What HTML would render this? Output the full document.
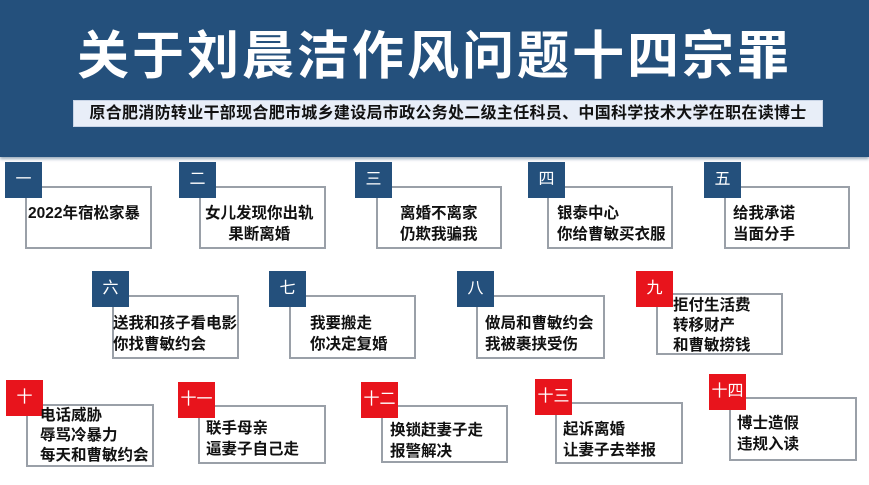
<!DOCTYPE html>
<html><head><meta charset="utf-8"><style>
*{margin:0;padding:0;box-sizing:border-box}
body{width:869px;height:485px;background:#fff;position:relative;overflow:hidden;font-family:"Liberation Sans","Noto Sans CJK SC",sans-serif}
.hdr{position:absolute;left:0;top:0;width:869px;height:157px;background:#24507c;box-shadow:0 2px 3px #9ab}
.title{position:absolute;left:0;top:26px;width:869px;text-align:center;color:#fff;font-size:52px;font-weight:bold;line-height:62px;letter-spacing:3px}
.sub{position:absolute;left:73px;top:100px;width:750px;height:27px;background:#e8eef8;border:1px solid #c8d4e6;color:#111;font-size:16px;font-weight:bold;line-height:26px;text-align:center;letter-spacing:0.3px;white-space:nowrap;overflow:hidden}
.box{position:absolute;border:2px solid #9aa0a8;background:#fff}
.lab{position:absolute;width:37px;height:36px;background:#24507c;color:#fff;font-size:16px;text-align:center;line-height:36px}
.red{background:#e8141c}
.t{position:absolute;font-size:15.5px;font-weight:bold;line-height:21px;color:#111;white-space:nowrap}
</style></head><body>
<div class="hdr"></div>
<div class="title">关于刘晨洁作风问题十四宗罪</div>
<div class="sub">原合肥消防转业干部现合肥市城乡建设局市政公务处二级主任科员、中国科学技术大学在职在读博士</div>

<div class="box" style="left:25px;top:186px;width:127px;height:63px"></div>
<div class="lab" style="left:5px;top:162px">一</div>
<div class="t" style="left:28px;top:203px">2022年宿松家暴</div>

<div class="box" style="left:199px;top:186px;width:127px;height:63px"></div>
<div class="lab" style="left:179px;top:162px">二</div>
<div class="t" style="left:205px;top:203px;text-align:center">女儿发现你出轨<br>果断离婚</div>

<div class="box" style="left:376px;top:186px;width:126px;height:63px"></div>
<div class="lab" style="left:355px;top:162px">三</div>
<div class="t" style="left:400px;top:203px">离婚不离家<br>仍欺我骗我</div>

<div class="box" style="left:547px;top:186px;width:126px;height:63px"></div>
<div class="lab" style="left:528px;top:162px">四</div>
<div class="t" style="left:557px;top:203px">银泰中心<br>你给曹敏买衣服</div>

<div class="box" style="left:724px;top:186px;width:126px;height:63px"></div>
<div class="lab" style="left:704px;top:162px">五</div>
<div class="t" style="left:733px;top:203px">给我承诺<br>当面分手</div>

<div class="box" style="left:112px;top:295px;width:127px;height:64px"></div>
<div class="lab" style="left:92px;top:271px">六</div>
<div class="t" style="left:113px;top:313px">送我和孩子看电影<br>你找曹敏约会</div>

<div class="box" style="left:289px;top:295px;width:127px;height:64px"></div>
<div class="lab" style="left:269px;top:271px">七</div>
<div class="t" style="left:310px;top:313px">我要搬走<br>你决定复婚</div>

<div class="box" style="left:476px;top:295px;width:129px;height:64px"></div>
<div class="lab" style="left:457px;top:271px">八</div>
<div class="t" style="left:485px;top:313px">做局和曹敏约会<br>我被裹挟受伤</div>

<div class="box" style="left:656px;top:293px;width:127px;height:62px"></div>
<div class="lab red" style="left:636px;top:271px">九</div>
<div class="t" style="left:673px;top:296px;line-height:20px">拒付生活费<br>转移财产<br>和曹敏捞钱</div>

<div class="box" style="left:26px;top:404px;width:128px;height:63px"></div>
<div class="lab red" style="left:6px;top:380px">十</div>
<div class="t" style="left:40px;top:406px;line-height:20px">电话威胁<br>辱骂冷暴力<br>每天和曹敏约会</div>

<div class="box" style="left:198px;top:405px;width:128px;height:59px"></div>
<div class="lab red" style="left:178px;top:382px">十一</div>
<div class="t" style="left:206px;top:418px">联手母亲<br>逼妻子自己走</div>

<div class="box" style="left:381px;top:405px;width:127px;height:58px"></div>
<div class="lab red" style="left:361px;top:382px">十二</div>
<div class="t" style="left:390px;top:420px">换锁赶妻子走<br>报警解决</div>

<div class="box" style="left:555px;top:402px;width:128px;height:62px"></div>
<div class="lab red" style="left:535px;top:379px">十三</div>
<div class="t" style="left:563px;top:419px">起诉离婚<br>让妻子去举报</div>

<div class="box" style="left:729px;top:397px;width:128px;height:64px"></div>
<div class="lab red" style="left:709px;top:374px">十四</div>
<div class="t" style="left:737px;top:413px">博士造假<br>违规入读</div>
</body></html>
